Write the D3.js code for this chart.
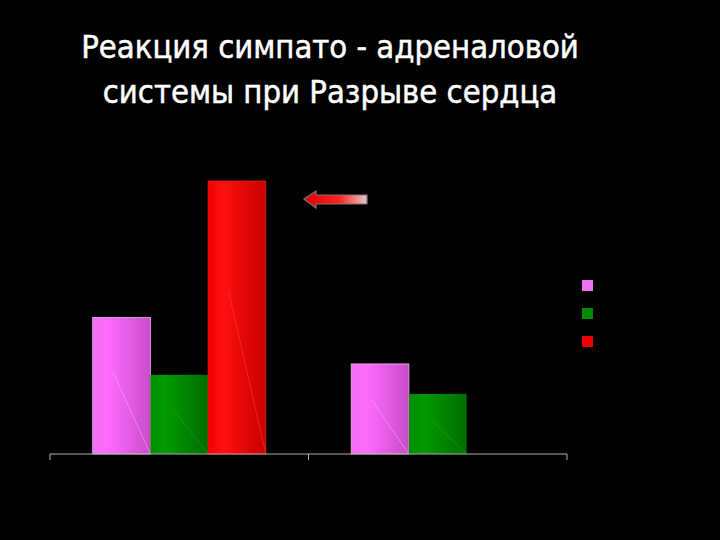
<!DOCTYPE html>
<html>
<head>
<meta charset="utf-8">
<script src="https://cdn.jsdelivr.net/npm/d3@7"></script>
<style>
  html, body { margin: 0; padding: 0; background: #000; }
  #svg { width: 720px; height: 540px; display: block; }
</style>
</head>
<body>
<svg id="svg"></svg>
<script>
var groups = ['1', '2'];
var series = ['s1', 's2', 's3'];
// values (no y axis shown, relative units)
var s1Values = [5.0, 3.3];
var s2Values = [2.9, 2.2];
var s3Values = [10.0, null];
var seriesColors = [
    ['#ff6cff', '#f070f0', '#c94cc9'],
    ['#009a00', '#008c00', '#006e00'],
    ['#ff1010', '#f20000', '#c80000']
];
var titleLines = ['Реакция симпато - адреналовой', 'системы при Разрыве сердца'];

var svg;
var margin = { top: 181, right: 153, bottom: 86, left: 50 };
var width = 720, height = 540;

document.addEventListener('DOMContentLoaded', function() {
    svg = d3.select('#svg');
    drawChart();
});

function drawChart() {
    svg.selectAll('*').remove();
    svg.append('rect').attr('width', width).attr('height', height).attr('fill', '#000');

    var innerW = width - margin.left - margin.right;
    var innerH = height - margin.top - margin.bottom;

    var defs = svg.append('defs');
    seriesColors.forEach(function(c, i) {
        var grad = defs.append('linearGradient')
            .attr('id', 'grad' + i)
            .attr('x1', '0').attr('x2', '1').attr('y1', '0').attr('y2', '0');
        grad.append('stop').attr('offset', '0%').attr('stop-color', c[1]);
        grad.append('stop').attr('offset', '25%').attr('stop-color', c[0]);
        grad.append('stop').attr('offset', '100%').attr('stop-color', c[2]);
    });

    // title
    svg.append('g').selectAll('text')
        .data(titleLines)
        .enter()
        .append('text')
        .attr('x', 330)
        .attr('y', function(d, i) { return 58 + i * 45; })
        .attr('text-anchor', 'middle')
        .attr('fill', '#fff')
        .attr('stroke', '#fff')
        .attr('stroke-width', 0.5)
        .style('font-family', 'DejaVu Sans Condensed, DejaVu Sans, sans-serif')
        .style('font-size', '32.5px')
        .text(function(d) { return d; });

    var g = svg.append('g').attr('transform', 'translate(' + margin.left + ',' + margin.top + ')');

    var x0 = d3.scaleBand().domain(groups).range([0, innerW]).padding(0);
    var x1 = d3.scaleBand().domain(series).range([0, x0.bandwidth()]).paddingInner(0).paddingOuter(0.74);
    var y = d3.scaleLinear().domain([0, 10]).range([innerH, 0]);

    var allValues = [s1Values, s2Values, s3Values];
    var rows = [];
    groups.forEach(function(grp, gi) {
        series.forEach(function(s, si) {
            var v = allValues[si][gi];
            if (v != null) rows.push({ group: grp, series: s, si: si, value: v });
        });
    });

    var bars = g.selectAll('g.bar')
        .data(rows)
        .enter()
        .append('g')
        .attr('class', 'bar')
        .attr('transform', function(d) { return 'translate(' + (x0(d.group) + x1(d.series)) + ',0)'; });

    bars.append('rect')
        .attr('x', 0)
        .attr('y', function(d) { return y(d.value); })
        .attr('width', x1.bandwidth())
        .attr('height', function(d) { return innerH - y(d.value); })
        .attr('fill', function(d) { return 'url(#grad' + d.si + ')'; })
        .attr('stroke', function(d) { return d.si === 0 ? '#f0b0f0' : (d.si === 2 ? '#e02020' : 'none'); })
        .attr('stroke-width', 0.8);

    // faint diagonal highlight lines inside bars
    bars.append('line')
        .attr('x1', function(d) { return x1.bandwidth() * 0.35; })
        .attr('y1', function(d) { return y(d.value) + (innerH - y(d.value)) * 0.4; })
        .attr('x2', x1.bandwidth())
        .attr('y2', innerH)
        .attr('stroke', function(d) { return d.si === 0 ? '#f4b4f4' : (d.si === 1 ? '#2aa02a' : '#ff4040'); })
        .attr('stroke-width', 0.8)
        .attr('opacity', 0.7);

    // x axis
    var axis = g.append('g').attr('transform', 'translate(0,' + innerH + ')');
    axis.append('line')
        .attr('x1', 0).attr('x2', innerW)
        .attr('stroke', '#b0b0b0').attr('stroke-width', 1);
    var tickPos = [0].concat(groups.map(function(d) { return x0(d) + x0.bandwidth(); }));
    axis.selectAll('line.tick')
        .data(tickPos)
        .enter()
        .append('line')
        .attr('class', 'tick')
        .attr('x1', function(d) { return d; }).attr('x2', function(d) { return d; })
        .attr('y1', 0).attr('y2', 6)
        .attr('stroke', '#b0b0b0');

    // legend
    var legend = svg.append('g').attr('transform', 'translate(582,280)');
    legend.selectAll('rect')
        .data(series)
        .enter()
        .append('rect')
        .attr('x', 0)
        .attr('y', function(d, i) { return i * 28; })
        .attr('width', 11)
        .attr('height', 11)
        .attr('fill', function(d, i) { return seriesColors[i][1]; });

    // arrow pointing at the tallest bar
    var arrowGrad = defs.append('linearGradient')
        .attr('id', 'arrowGrad').attr('x1', '0').attr('x2', '1');
    arrowGrad.append('stop').attr('offset', '0%').attr('stop-color', '#e00000');
    arrowGrad.append('stop').attr('offset', '55%').attr('stop-color', '#ff2020');
    arrowGrad.append('stop').attr('offset', '100%').attr('stop-color', '#e8c8c8');
    svg.append('path')
        .attr('d', 'M304,199 L316,191 L316,195 L367,195 L367,204 L316,204 L316,208 Z')
        .attr('fill', 'url(#arrowGrad)')
        .attr('stroke', '#777')
        .attr('stroke-width', 1.2);
}
</script>
</body>
</html>
